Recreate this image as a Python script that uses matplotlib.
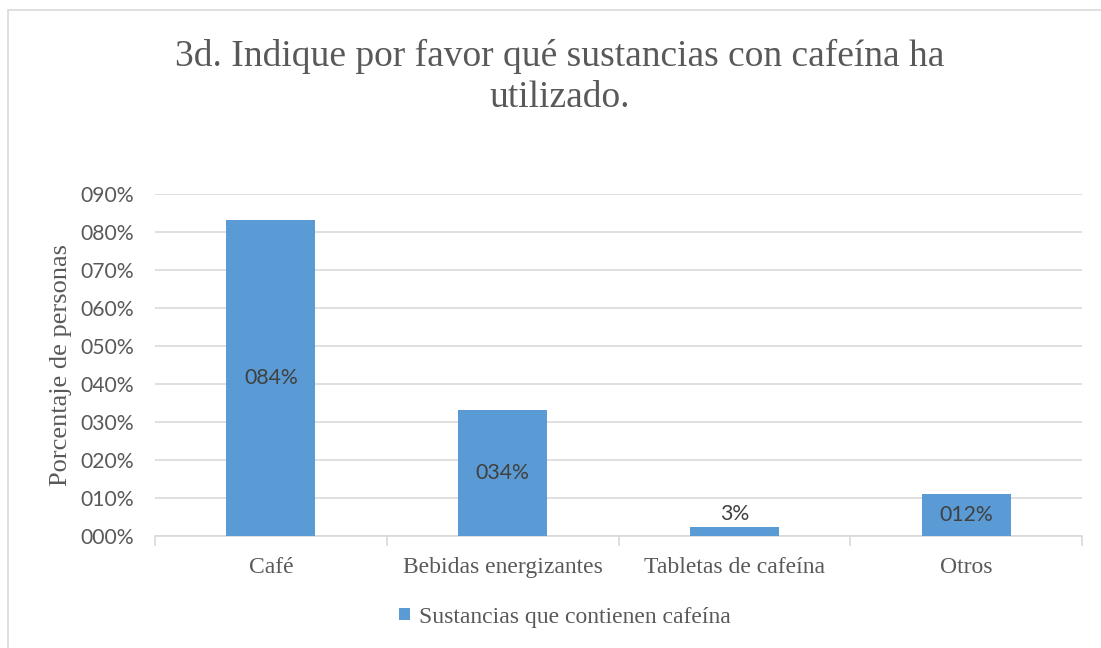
import matplotlib
matplotlib.use("Agg")
import matplotlib.pyplot as plt
from matplotlib.patches import Rectangle
from matplotlib.ticker import FuncFormatter, MultipleLocator

categorias = ["Café", "Bebidas energizantes", "Tabletas de cafeína", "Otros"]
valores = [0.832, 0.332, 0.024, 0.111]
etiquetas = ["084%", "034%", "3%", "012%"]
serie = "Sustancias que contienen cafeína"
titulo = "3d. Indique por favor qué sustancias con cafeína ha\nutilizado."
ylabel = "Porcentaje de personas"

W, H = 1101, 648
fig = plt.figure(figsize=(W / 100, H / 100), dpi=100)
fig.patch.set_facecolor("white")

# chart border
fig.patches.append(Rectangle((8 / W, -0.1), 1.2, 1 - 10 / H + 0.1,
                             transform=fig.transFigure, fill=False,
                             edgecolor="#D9D9D9", linewidth=1.2))

ax = fig.add_axes([155 / W, 1 - 536 / H, (1082 - 155) / W, (536 - 194) / H])

serif = "Liberation Serif"
sans = "Lato"
txt = "#595959"

x = range(len(categorias))
bars = ax.bar(x, valores, width=0.385, color="#5B9BD5", zorder=3, label=serie)

for i, (b, lab) in enumerate(zip(bars, etiquetas)):
    v = valores[i]
    if v < 0.05:
        ax.text(b.get_x() + b.get_width() / 2, v + 0.008, lab, ha="center",
                va="bottom", fontsize=15.3, family=sans, color="#404040")
    else:
        ax.text(b.get_x() + b.get_width() / 2, v / 2, lab, ha="center",
                va="center", fontsize=15.3, family=sans, color="#404040")

ax.set_xlim(-0.5, 3.5)
ax.set_ylim(0, 0.9)
ax.yaxis.set_major_locator(MultipleLocator(0.1))
ax.yaxis.set_major_formatter(FuncFormatter(lambda v, p: "%03d%%" % round(v * 100)))
ax.grid(axis="y", color="#D9D9D9", linewidth=1.2, zorder=0)

for s in ["top", "right", "left"]:
    ax.spines[s].set_visible(False)
ax.spines["bottom"].set_color("#D9D9D9")
ax.spines["bottom"].set_linewidth(1.2)

ax.set_xticks([i + 0.5 for i in range(-1, 4)], minor=False)
ax.set_xticklabels([])
ax.tick_params(axis="x", which="major", length=7, color="#D9D9D9", width=1.2)
ax.set_xticks(list(x), minor=True)
ax.set_xticklabels(categorias, minor=True, family=serif, fontsize=17, color=txt)
ax.tick_params(axis="x", which="minor", length=0, pad=15)
ax.tick_params(axis="y", length=0, pad=15, labelsize=15.2, labelcolor=txt)
for t in ax.get_yticklabels():
    t.set_family(sans)

ax.set_ylabel(ylabel, family=serif, fontsize=19, color=txt)
ax.yaxis.set_label_coords((72 - 155) / (1082 - 155), 0.5)

fig.text(560 / W, 1 - 77 / H, titulo, ha="center", va="center", family=serif,
         fontsize=27, color=txt, linespacing=1.22)

leg = fig.legend(loc="center", bbox_to_anchor=(565 / W, 1 - 617 / H), frameon=False,
                 prop={"family": serif, "size": 17}, handlelength=0.45,
                 handleheight=0.45, handletextpad=0.4)
for t in leg.get_texts():
    t.set_color(txt)

fig.savefig("out.png", dpi=100)
